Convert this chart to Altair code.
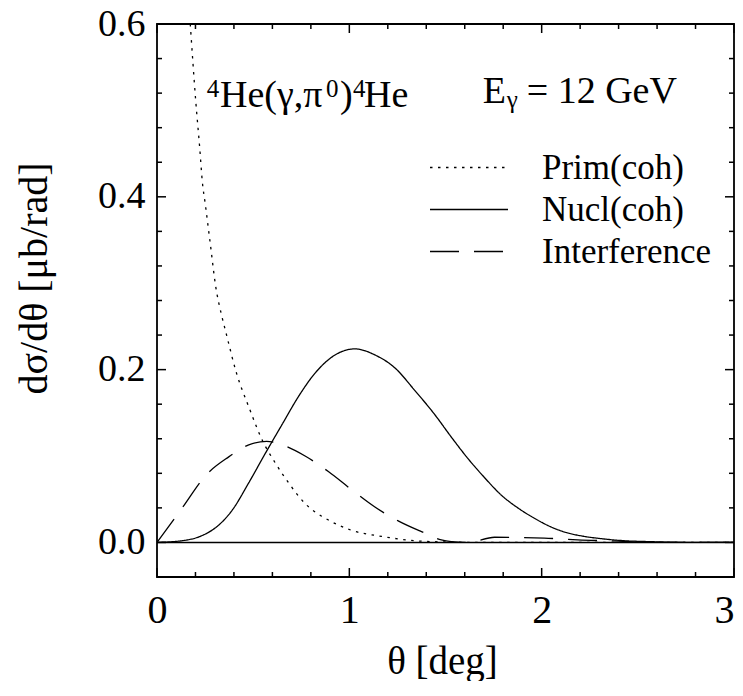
import altair as alt
import pandas as pd

# ---- data ----
series_names = ["Prim(coh)", "Nucl(coh)", "Interference"]

prim_theta = [0.173, 0.201, 0.223, 0.235, 0.252, 0.278, 0.304, 0.338, 0.356, 0.373,
              0.408, 0.416, 0.477, 0.546, 0.615, 0.684, 0.770, 0.891, 1.012, 1.167,
              1.340, 1.496, 1.70, 2.0, 3.0]
prim_val = [0.600, 0.512, 0.454, 0.419, 0.390, 0.344, 0.298, 0.261, 0.245, 0.230,
            0.200, 0.194, 0.157, 0.119, 0.092, 0.069, 0.045, 0.026, 0.014, 0.007,
            0.002, 0.0005, 0.0, 0.0, 0.0]

nucl_theta = [0.0, 0.131, 0.235, 0.304, 0.390, 0.477, 0.563, 0.649, 0.736, 0.822,
              0.926, 1.030, 1.133, 1.237, 1.340, 1.444, 1.530, 1.617, 1.703, 1.789,
              1.876, 1.962, 2.048, 2.135, 2.221, 2.325, 2.428, 2.549, 2.808, 3.0]
nucl_val = [0.0, 0.002, 0.008, 0.017, 0.037, 0.069, 0.103, 0.136, 0.169, 0.196,
            0.217, 0.224, 0.217, 0.202, 0.176, 0.148, 0.122, 0.097, 0.075, 0.055,
            0.040, 0.028, 0.018, 0.011, 0.007, 0.004, 0.002, 0.001, 0.0, 0.0]

intf_theta = [0.0, 0.131, 0.255, 0.373, 0.477, 0.570, 0.649, 0.770, 0.891, 1.012,
              1.133, 1.254, 1.375, 1.478, 1.530, 1.617, 1.755, 2.014, 2.187, 2.40,
              2.55, 3.0]
intf_val = [0.0, 0.040, 0.078, 0.099, 0.113, 0.117, 0.113, 0.100, 0.082, 0.061,
            0.041, 0.025, 0.0125, 0.003, 0.001, 0.0, 0.006, 0.005, 0.003, 0.0015,
            0.0, 0.0]

x_major = [0, 1, 2, 3]
x_minor = [0.2, 0.4, 0.6, 0.8, 1.2, 1.4, 1.6, 1.8, 2.2, 2.4, 2.6, 2.8]
y_major = [0.0, 0.2, 0.4, 0.6]
y_minor = [0.04, 0.08, 0.12, 0.16, 0.24, 0.28, 0.32, 0.36, 0.44, 0.48, 0.52, 0.56, -0.04]

x_title = "θ [deg]"
y_title = "dσ/dθ [μb/rad]"

# ---- layout ----
W, H = 577, 553
FONT = "Liberation Serif"
MAJ, MIN = 9, 5

rows = []
for name, th, vals in [(series_names[0], prim_theta, prim_val),
                       (series_names[1], nucl_theta, nucl_val),
                       (series_names[2], intf_theta, intf_val)]:
    for t, v in zip(th, vals):
        rows.append({"series": name, "theta": t, "value": v})
df = pd.DataFrame(rows)

xs = alt.Scale(domain=[0, 3], nice=False, zero=False)
ys = alt.Scale(domain=[-0.04, 0.6], nice=False, zero=False)

x_axis = alt.Axis(values=x_major, format="d", title=None, ticks=False, domain=False,
                  grid=False, labelFlush=False, labelOverlap=False, labelFont=FONT,
                  labelFontSize=40, labelColor="black", labelPadding=13,
                  labelAlign={"condition": {"test": "datum.value == 3", "value": "right"},
                              "value": "center"})
y_axis = alt.Axis(values=y_major, format=".1f", title=None, ticks=False, domain=False,
                  grid=False, labelFlush=False, labelOverlap=False, labelFont=FONT,
                  labelFontSize=38, labelColor="black", labelPadding=12)

lines = alt.Chart(df).mark_line(color="black", strokeWidth=1.3, clip=True,
                                interpolate="monotone").encode(
    x=alt.X("theta:Q", scale=xs, axis=x_axis),
    y=alt.Y("value:Q", scale=ys, axis=y_axis),
    strokeDash=alt.StrokeDash("series:N",
        scale=alt.Scale(domain=series_names, range=[[2.5, 5.5], [1, 0], [29, 15]]),
        legend=alt.Legend(orient="none", legendX=272, legendY=128.5, title=None,
                          symbolType="stroke", symbolSize=6084, symbolStrokeWidth=1.3,
                          symbolStrokeColor="black", labelFont=FONT, labelFontSize=35,
                          labelColor="black", labelOffset=33, clipHeight=30,
                          rowPadding=7, padding=0, labelLimit=400)),
)

zero = alt.Chart(pd.DataFrame({"v": [0.0]})).mark_rule(color="black", strokeWidth=1.6).encode(
    y=alt.Y("v:Q", scale=ys, axis=y_axis))


def xticks(vals, length):
    d = pd.DataFrame({"v": vals})
    b = alt.Chart(d).mark_rule(color="black", strokeWidth=1.5).encode(
        x=alt.X("v:Q", scale=xs, axis=x_axis), y=alt.value(H), y2=alt.value(H - length))
    t = alt.Chart(d).mark_rule(color="black", strokeWidth=1.5).encode(
        x=alt.X("v:Q", scale=xs, axis=x_axis), y=alt.value(0), y2=alt.value(length))
    return [b, t]


def yticks(vals, length):
    d = pd.DataFrame({"v": vals})
    l = alt.Chart(d).mark_rule(color="black", strokeWidth=1.5).encode(
        y=alt.Y("v:Q", scale=ys, axis=y_axis), x=alt.value(0), x2=alt.value(length))
    r = alt.Chart(d).mark_rule(color="black", strokeWidth=1.5).encode(
        y=alt.Y("v:Q", scale=ys, axis=y_axis), x=alt.value(W), x2=alt.value(W - length))
    return [l, r]


def txt(s, x, y, size, align="left", angle=0):
    return alt.Chart(pd.DataFrame({"a": [0]})).mark_text(
        text=s, font=FONT, fontSize=size, color="black", align=align,
        baseline="alphabetic", angle=angle).encode(x=alt.value(x), y=alt.value(y))


annos = [
    txt("4", 49.7, 72.7, 25),
    txt("He(γ,π", 63, 82.7, 38),
    txt("0", 169, 72.7, 25),
    txt(")", 183, 82.7, 38),
    txt("4", 196, 72.7, 25),
    txt("He", 207, 82.7, 38),
    txt("E", 325.7, 79.3, 38),
    txt("γ", 349.7, 84, 25),
    txt("= 12 GeV", 369.7, 79.3, 38),
    txt(x_title, W / 2 - 3, H + 97, 39, align="center"),
    txt(y_title, -110, H / 2 - 22, 40, align="center", angle=270),
]

layers = [zero, lines] + xticks(x_major, MAJ) + xticks(x_minor, MIN) \
    + yticks(y_major, MAJ) + yticks(y_minor, MIN) + annos

chart = alt.layer(*layers).properties(
    width=W, height=H,
    autosize=alt.AutoSizeParams(type="none"),
    padding={"left": 149, "top": 16, "right": 1, "bottom": 104},
).configure(background="white", font=FONT).configure_view(
    stroke="black", strokeWidth=1.8
).configure_axis(labelFont=FONT).configure_legend(labelFont=FONT)

chart.save("out.html", embed_options={"renderer": "svg", "actions": False})
